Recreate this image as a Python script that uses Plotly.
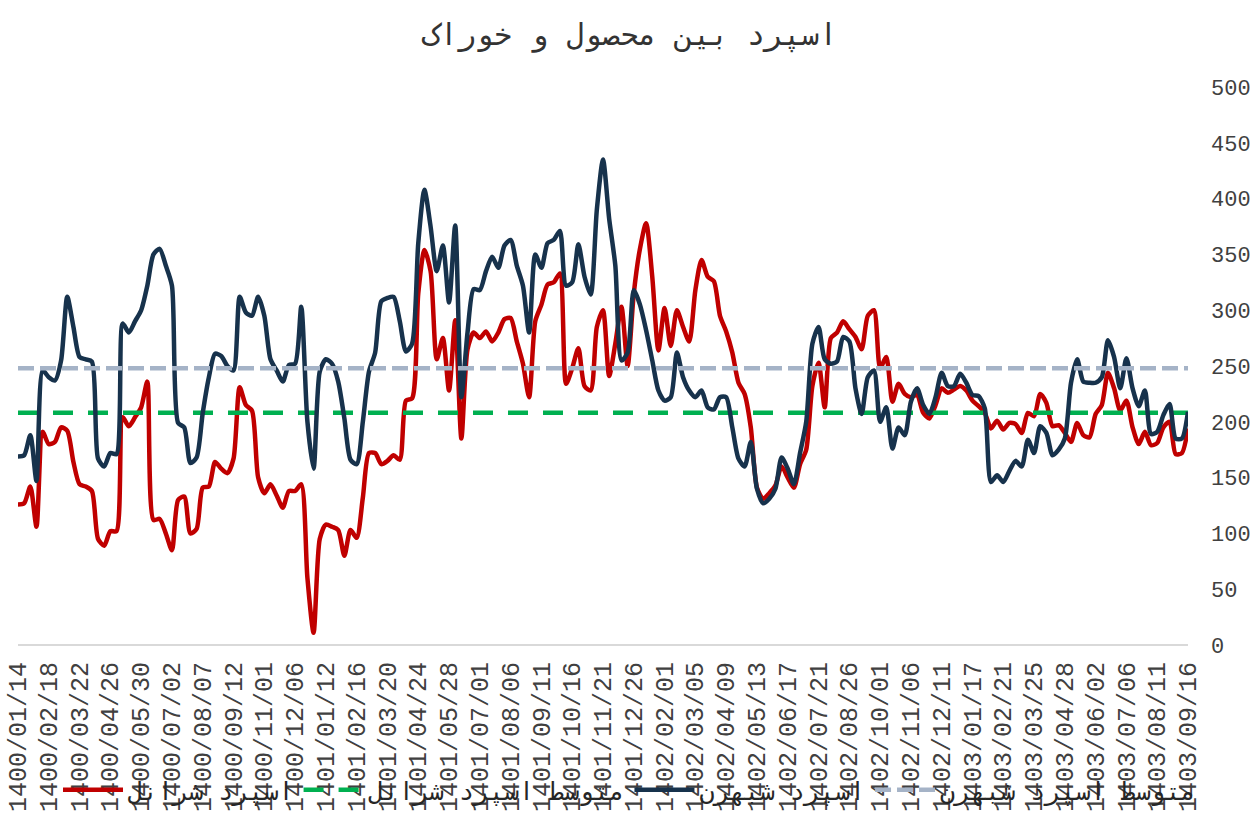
import plotly.graph_objects as go

# ---- data ----
tick_labels = [
    "1400/01/14", "1400/02/18", "1400/03/22", "1400/04/26", "1400/05/30",
    "1400/07/02", "1400/08/07", "1400/09/12", "1400/11/01", "1400/12/06",
    "1401/01/12", "1401/02/16", "1401/03/20", "1401/04/24", "1401/05/28",
    "1401/07/01", "1401/08/06", "1401/09/11", "1401/10/16", "1401/11/21",
    "1401/12/26", "1402/02/01", "1402/03/05", "1402/04/09", "1402/05/13",
    "1402/06/17", "1402/07/21", "1402/08/26", "1402/10/01", "1402/11/06",
    "1402/12/11", "1403/01/17", "1403/02/21", "1403/03/25", "1403/04/28",
    "1403/06/02", "1403/07/06", "1403/08/11", "1403/09/16",
]
tick_step = 5

spread_sheranol = [
    126, 127, 142, 106, 191, 180, 182, 195, 192, 164,
    144, 142, 138, 95, 89, 102, 102, 204, 196, 204,
    213, 236, 112, 113, 100, 85, 130, 133, 100, 104,
    141, 142, 164, 158, 154, 167, 231, 215, 210, 150,
    136, 144, 134, 123, 138, 138, 144, 60, 11, 95,
    108, 106, 103, 80, 103, 96, 132, 172, 172, 162,
    165, 170, 166, 219, 221, 315, 354, 335, 256, 275,
    228, 291, 185, 265, 280, 275, 281, 272, 280, 292,
    293, 272, 252, 222, 290, 305, 323, 325, 333, 234,
    248, 266, 232, 228, 285, 300, 241, 270, 303, 250,
    315, 355, 378, 330, 264, 302, 268, 300, 285, 272,
    318, 345, 330, 326, 295, 281, 262, 235, 225, 195,
    141, 131, 136, 143, 160, 150, 141, 162, 175, 232,
    253, 213, 275, 280, 290, 283, 276, 265, 295, 300,
    248, 258, 218, 234, 225, 222, 224, 208, 203, 215,
    230, 226, 229, 232, 228, 219, 214, 208, 194, 201,
    193, 199, 198, 190, 208, 205, 225, 217, 196, 197,
    190, 182, 199, 188, 186, 207, 215, 244, 230, 210,
    219, 195, 180, 191, 179, 181, 195, 200, 171, 172,
    194,
]

spread_shebehran = [
    169, 170, 188, 147, 246, 240, 237, 255, 312, 285,
    258, 256, 254, 167, 160, 172, 171, 288, 280, 290,
    300, 322, 350, 355, 340, 322, 199, 195, 163, 168,
    208, 240, 261, 259, 250, 246, 312, 298, 295, 312,
    295, 256, 246, 236, 251, 252, 303, 200, 158, 245,
    256, 252, 236, 203, 166, 162, 200, 245, 262, 308,
    311, 312, 290, 263, 270, 360, 408, 375, 335, 358,
    307, 376, 222, 280, 319, 318, 335, 348, 338, 358,
    363, 340, 322, 280, 350, 338, 360, 363, 371, 322,
    325, 359, 330, 314, 390, 435, 382, 340, 255, 262,
    318, 305, 282, 255, 228, 219, 222, 262, 240, 228,
    222, 228, 213, 211, 222, 222, 195, 167, 160, 182,
    140, 127, 131, 140, 168, 158, 144, 172, 200, 270,
    285, 256, 252, 254, 276, 272, 230, 207, 240, 246,
    200, 213, 176, 195, 188, 218, 230, 215, 207, 222,
    244, 232, 232, 243, 235, 224, 223, 212, 146, 152,
    146, 156, 165, 160, 184, 172, 196, 190, 170, 175,
    185, 235, 256, 236, 235, 235, 240, 273, 258, 230,
    257, 230, 214, 228, 189, 191, 206, 216, 185, 185,
    209,
]

avg_sheranol = 208
avg_shebehran = 248

names = ["اسپرد شرانل", "متوسط اسپرد شرانل", "اسپرد شبهرن", "متوسط اسپرد شبهرن"]
title_text = "اسپرد بین محصول و خوراک"

# ---- figure ----
n = len(spread_sheranol)
x = list(range(n))
tickvals = [i * tick_step for i in range(len(tick_labels))]

ARAB = "DejaVu Sans Mono"
TICK = "Liberation Mono, DejaVu Sans Mono"
fig = go.Figure()
fig.add_trace(go.Scatter(
    x=x, y=spread_sheranol, name=names[0], mode="lines",
    line=dict(color="#C00000", width=4.5, shape="spline", smoothing=0.7),
))
fig.add_trace(go.Scatter(
    x=x, y=[avg_sheranol] * n, name=names[1], mode="lines",
    line=dict(color="#00B050", width=4.5, dash="20px,15px"),
))
fig.add_trace(go.Scatter(
    x=x, y=spread_shebehran, name=names[2], mode="lines",
    line=dict(color="#17324C", width=4.5, shape="spline", smoothing=0.7),
))
fig.add_trace(go.Scatter(
    x=x, y=[avg_shebehran] * n, name=names[3], mode="lines",
    line=dict(color="#A5B3C7", width=4.5, dash="16px,6px"),
))

fig.update_layout(
    width=1259, height=835,
    margin=dict(l=18, r=71, t=87, b=190, autoexpand=False),
    paper_bgcolor="white", plot_bgcolor="white",
    font=dict(family=ARAB, color="#262626"),
    title=dict(text=title_text, x=0.5, xanchor="center", y=1 - 34 / 835,
               yanchor="middle", font=dict(family=ARAB, size=30, color="#333333")),
    showlegend=True,
    legend=dict(orientation="h", xref="container", yref="container",
                x=0.5, xanchor="center", y=1 - 790 / 835, yanchor="middle",
                itemwidth=60,
                font=dict(family=ARAB, size=25, color="#262626"),
                bgcolor="rgba(0,0,0,0)"),
    hovermode=False,
)
fig.update_xaxes(
    range=[0, n - 1], tickmode="array", tickvals=tickvals, ticktext=tick_labels,
    tickangle=-90, tickfont=dict(family=TICK, size=25, color="#404040"),
    showgrid=False, zeroline=False, showline=False, ticks="",
    automargin=False, ticklabelstandoff=11,
)
fig.update_yaxes(
    range=[0, 500], side="right", tickmode="array",
    tickvals=[0, 50, 100, 150, 200, 250, 300, 350, 400, 450, 500],
    tickfont=dict(family=TICK, size=22, color="#404040"),
    showgrid=False, zeroline=True, zerolinecolor="#D9D9D9", zerolinewidth=2,
    showline=False, ticks="", ticklabelstandoff=22, automargin=False,
)

fig.write_html("out.html")
